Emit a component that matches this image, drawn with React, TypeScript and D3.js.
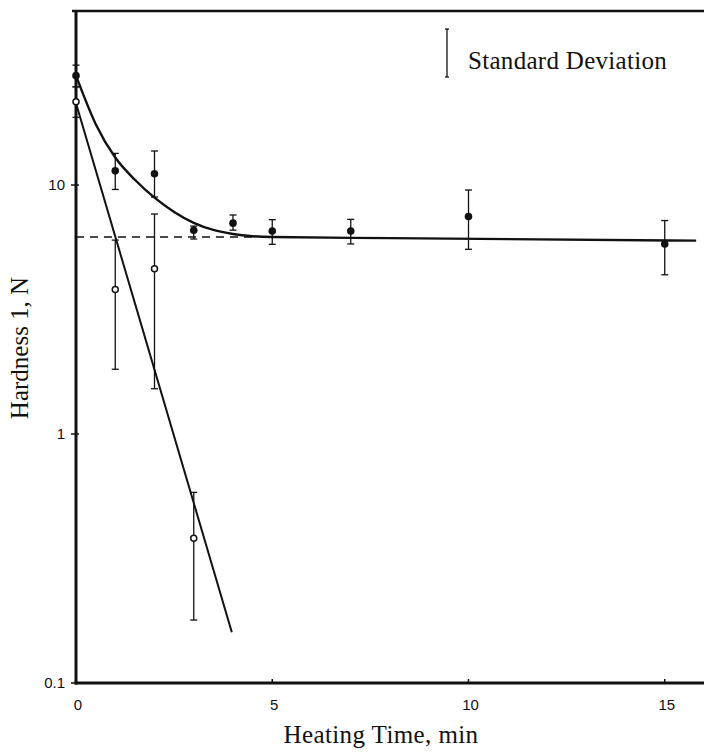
import React from "react";
import * as d3 from "d3";

// ---- data ----
const filledX = [0, 1, 2, 3, 4, 5, 7, 10, 15];
const filledMean = [27.5, 11.4, 11.1, 6.58, 7.03, 6.53, 6.53, 7.47, 5.8];
const filledLow = [24.8, 9.6, 8.95, 6.07, 6.59, 5.78, 5.8, 5.52, 4.36];
const filledHigh = [30.3, 13.4, 13.7, 6.84, 7.58, 7.26, 7.28, 9.55, 7.2];

const openX = [0, 1, 2, 3];
const openMean = [21.6, 3.81, 4.61, 0.381];
const openLow = [18.7, 1.82, 1.52, 0.179];
const openHigh = [24.8, 6.01, 7.65, 0.583];

// fitted curve for filled series (plateau decay)
const curveX = [0, 0.5, 1, 1.5, 2, 2.5, 3, 3.5, 4, 4.5, 5, 8, 15.8];
const curveY = [27.5, 17.6, 12.9, 10.5, 8.9, 7.8, 7.05, 6.6, 6.36, 6.23, 6.18, 6.12, 5.98];

// straight log-linear fit for open series
const lineX = [0, 3.97];
const lineY = [21.3, 0.16];

// dashed plateau reference
const dashX = [0, 4.6];
const dashY = [6.18, 6.18];

const xTicks = [0, 5, 10, 15];
const yTicks = [0.1, 1, 10];
const yTickLabels = ["0.1", "1", "10"];

const xTitle = "Heating Time, min";
const yTitle = "Hardness 1, N";
const legendText = "Standard Deviation";

const W = 704;
const H = 752;
const left = 76;
const right = 704;
const top = 11;
const bottom = 683;

export default function App() {
  const x = d3.scaleLinear().domain([0, 16]).range([left, right]);
  const y = d3.scaleLog().domain([0.1, 50]).range([bottom, top]);

  const line = d3
    .line<[number, number]>()
    .x((d) => x(d[0]))
    .y((d) => y(d[1]));
  const smooth = d3
    .line<[number, number]>()
    .x((d) => x(d[0]))
    .y((d) => y(d[1]))
    .curve(d3.curveMonotoneX);

  const curvePts = curveX.map((v, i) => [v, curveY[i]] as [number, number]);
  const linePts = lineX.map((v, i) => [v, lineY[i]] as [number, number]);
  const dashPts = dashX.map((v, i) => [v, dashY[i]] as [number, number]);

  const ink = "#111";
  const cap = 3.5;

  const errBars = (xs: number[], lo: number[], hi: number[], key: string) =>
    xs.map((v, i) => {
      const cx = x(v);
      return (
        <g key={key + i} stroke={ink} strokeWidth={1.3}>
          <line x1={cx} x2={cx} y1={y(hi[i])} y2={y(lo[i])} />
          <line x1={cx - cap} x2={cx + cap} y1={y(hi[i])} y2={y(hi[i])} />
          <line x1={cx - cap} x2={cx + cap} y1={y(lo[i])} y2={y(lo[i])} />
        </g>
      );
    });

  return (
    <svg
      width={W}
      height={H}
      style={{ position: "absolute", left: 0, top: 0, background: "#fff" }}
    >
      <rect x={0} y={0} width={W} height={H} fill="#fff" />

      {/* frame */}
      <line x1={left - 4} x2={W} y1={top} y2={top} stroke={ink} strokeWidth={2.6} />
      <line x1={left} x2={left} y1={top - 1} y2={bottom + 1.5} stroke={ink} strokeWidth={3} />
      <line x1={left - 1.5} x2={W} y1={bottom} y2={bottom} stroke={ink} strokeWidth={3} />

      {/* y ticks */}
      {yTicks.map((t, i) => (
        <g key={"yt" + i}>
          <line x1={left - 5} x2={left + 3} y1={y(t)} y2={y(t)} stroke={ink} strokeWidth={1.5} />
          <text
            x={left - 11}
            y={y(t)}
            dy="0.35em"
            textAnchor="end"
            fontFamily="Liberation Sans, Arial, sans-serif"
            fontSize={15}
            fill={ink}
          >
            {yTickLabels[i]}
          </text>
        </g>
      ))}

      {/* x ticks */}
      {xTicks.map((t, i) => (
        <g key={"xt" + i}>
          {t > 0 && (
            <line x1={x(t)} x2={x(t)} y1={bottom - 4} y2={bottom + 1} stroke={ink} strokeWidth={1.5} />
          )}
          <text
            x={x(t) + 2}
            y={bottom + 22}
            dy="0.35em"
            textAnchor="middle"
            fontFamily="Liberation Sans, Arial, sans-serif"
            fontSize={15}
            fill={ink}
          >
            {t}
          </text>
        </g>
      ))}

      {/* dashed plateau */}
      <path d={line(dashPts) || ""} fill="none" stroke={ink} strokeWidth={1.5} strokeDasharray="8,6" />

      {/* fits */}
      <path d={smooth(curvePts) || ""} fill="none" stroke={ink} strokeWidth={2.4} />
      <path d={line(linePts) || ""} fill="none" stroke={ink} strokeWidth={2} />

      {/* error bars */}
      {errBars(filledX, filledLow, filledHigh, "fe")}
      {errBars(openX, openLow, openHigh, "oe")}

      {/* markers */}
      {filledX.map((v, i) => (
        <circle key={"fp" + i} cx={x(v)} cy={y(filledMean[i])} r={3.8} fill={ink} />
      ))}
      {openX.map((v, i) => (
        <circle
          key={"op" + i}
          cx={x(v)}
          cy={y(openMean[i])}
          r={3}
          fill="#fff"
          stroke={ink}
          strokeWidth={1.5}
        />
      ))}

      {/* legend */}
      <g stroke={ink} strokeWidth={1.3}>
        <line x1={447} x2={447} y1={29} y2={77} />
        <line x1={445} x2={449} y1={29} y2={29} />
        <line x1={445} x2={449} y1={77} y2={77} />
      </g>
      <text
        x={468}
        y={69}
        fontFamily="Liberation Serif, Times New Roman, serif"
        fontSize={25}
        letterSpacing={0.3}
        fill={ink}
      >
        {legendText}
      </text>

      {/* axis titles */}
      <text
        x={381}
        y={743}
        textAnchor="middle"
        fontFamily="Liberation Serif, Times New Roman, serif"
        fontSize={25}
        letterSpacing={0.4}
        fill={ink}
      >
        {xTitle}
      </text>
      <text
        transform={`translate(28, 348) rotate(-90)`}
        textAnchor="middle"
        fontFamily="Liberation Serif, Times New Roman, serif"
        fontSize={25}
        fill={ink}
      >
        {yTitle}
      </text>
    </svg>
  );
}
